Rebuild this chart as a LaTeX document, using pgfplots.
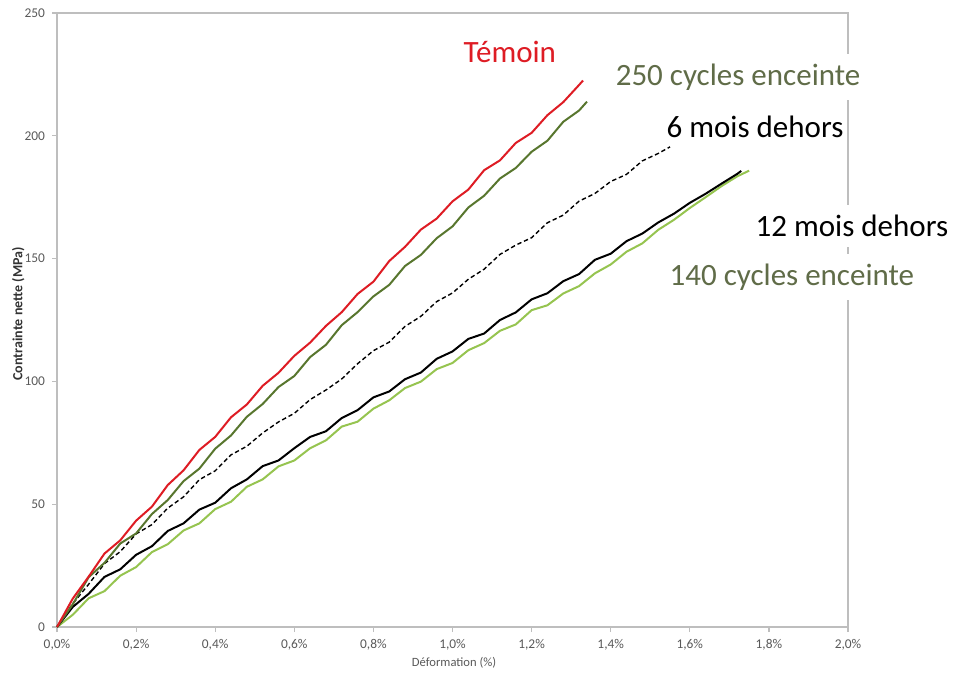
\documentclass[border=0pt]{standalone}
\usepackage{fontspec}
\setmainfont{Carlito}
\usepackage{pgfplots}
\pgfplotsset{compat=1.18}

\definecolor{temoin}{RGB}{222,28,36}
\definecolor{darkgr}{RGB}{88,118,46}
\definecolor{lightgr}{RGB}{150,196,80}
\definecolor{olivetxt}{RGB}{96,108,72}
\definecolor{axisgray}{RGB}{190,190,190}
\definecolor{ticktext}{RGB}{89,89,89}
\tikzset{bigtxt/.style={fill=white, inner xsep=1.5pt, inner ysep=5pt, font=\fontsize{15.5}{18}\selectfont}}

\begin{document}
\begin{tikzpicture}
\path[use as bounding box] (0pt,0pt) rectangle (478.5pt,338.5pt);
\begin{axis}[
  at={(28.5pt,25pt)}, anchor=south west,
  scale only axis, width=395.5pt, height=307pt,
  xmin=0, xmax=2, ymin=0, ymax=250,
  clip=false,
  axis line style={draw=axisgray, line width=0.6pt},
  xtick={0,0.2,0.4,0.6,0.8,1.0,1.2,1.4,1.6,1.8,2.0},
  xticklabels={{0,0\%},{0,2\%},{0,4\%},{0,6\%},{0,8\%},{1,0\%},{1,2\%},{1,4\%},{1,6\%},{1,8\%},{2,0\%}},
  ytick={0,50,100,150,200,250},
  xtick pos=left, ytick pos=left,
  tick align=outside, major tick length=2.5pt,
  tick style={draw=axisgray, line width=0.6pt},
  ticklabel style={font=\fontsize{6.7}{8}\selectfont, text=ticktext},
  /pgf/number format/assume math mode=true,
  xlabel={Déformation (\%)},
  xlabel style={at={(axis description cs:0.502,-0.0586)}, anchor=center,
    font=\fontsize{6.3}{7.5}\selectfont, text=ticktext},
  ylabel={Contrainte nette (MPa)},
  ylabel style={at={(axis description cs:-0.049,0.51)}, anchor=center,
    font=\bfseries\fontsize{7}{8}\selectfont, text=black!80},
]

% curve names, white boxes hide the right frame line
\node[bigtxt, text=temoin] at (axis cs:1.145,234) {Témoin};
\node[bigtxt, text=olivetxt] at (axis cs:1.722,223.9) {250 cycles enceinte};
\node[bigtxt, text=black] at (axis cs:1.765,203.6) {6 mois dehors};
\node[bigtxt, text=black] at (axis cs:2.010,163.3) {12 mois dehors};
\node[bigtxt, text=olivetxt] at (axis cs:1.858,142.5) {140 cycles enceinte};

% 140 cycles enceinte
\addplot[lightgr, line width=1pt] table {
0.00 0
0.04 5.0
0.08 11.7
0.12 14.6
0.16 20.9
0.20 24.4
0.24 30.5
0.28 33.7
0.32 39.3
0.36 42.2
0.40 48.0
0.44 51.0
0.48 57.1
0.52 60.1
0.56 65.4
0.60 67.8
0.64 72.8
0.68 76.0
0.72 81.6
0.76 83.6
0.80 88.9
0.84 92.3
0.88 97.3
0.92 99.9
0.96 105.0
1.00 107.5
1.04 112.7
1.08 115.6
1.12 120.6
1.16 123.2
1.20 129.0
1.24 131.0
1.28 135.8
1.32 138.8
1.36 144.0
1.40 147.6
1.44 152.8
1.48 156.2
1.52 161.7
1.56 165.8
1.60 170.6
1.64 175.0
1.68 179.5
1.72 183.5
1.75 185.8
};

% 12 mois dehors
\addplot[black, line width=1pt] table {
0.00 0
0.04 8.2
0.08 13.5
0.12 20.4
0.16 23.5
0.20 29.4
0.24 32.9
0.28 39.1
0.32 42.2
0.36 47.8
0.40 50.6
0.44 56.5
0.48 60.1
0.52 65.5
0.56 67.8
0.60 72.8
0.64 77.4
0.68 79.7
0.72 85.1
0.76 88.3
0.80 93.5
0.84 95.9
0.88 100.9
0.92 103.6
0.96 109.2
1.00 112.2
1.04 117.3
1.08 119.5
1.12 125.0
1.16 128.1
1.20 133.4
1.24 135.9
1.28 140.8
1.32 143.7
1.36 149.5
1.40 152.0
1.44 157.1
1.48 160.2
1.52 164.7
1.56 168.3
1.60 172.7
1.64 176.4
1.68 180.5
1.72 184.5
1.73 185.7
};

% 6 mois dehors
\addplot[black, line width=0.7pt, dash pattern=on 2.2pt off 1.4pt] table {
0.00 0
0.04 9.5
0.08 17.4
0.12 25.8
0.16 30.7
0.20 37.9
0.24 41.7
0.28 48.4
0.32 53.0
0.36 60.0
0.40 63.6
0.44 70.1
0.48 73.6
0.52 79.0
0.56 83.5
0.60 87.0
0.64 92.6
0.68 96.5
0.72 101.0
0.76 107.2
0.80 112.5
0.84 116.0
0.88 122.4
0.92 126.5
0.96 132.5
1.00 136.0
1.04 141.6
1.08 145.7
1.12 151.7
1.16 155.5
1.20 158.5
1.24 164.6
1.28 167.7
1.32 173.4
1.36 176.5
1.40 181.4
1.44 184.3
1.48 189.8
1.52 192.8
1.55 195.5
};

% 250 cycles enceinte
\addplot[darkgr, line width=1pt] table {
0.00 0
0.04 9.3
0.08 20.3
0.12 26.1
0.16 34.0
0.20 38.1
0.24 46.0
0.28 51.7
0.32 59.4
0.36 64.5
0.40 72.6
0.44 78.0
0.48 85.6
0.52 90.8
0.56 97.7
0.60 102.2
0.64 109.9
0.68 114.9
0.72 122.9
0.76 128.2
0.80 134.6
0.84 139.3
0.88 147.0
0.92 151.5
0.96 158.3
1.00 163.1
1.04 170.8
1.08 175.6
1.12 182.6
1.16 186.9
1.20 193.5
1.24 198.0
1.28 205.7
1.32 210.3
1.34 213.9
};

% Temoin
\addplot[temoin, line width=1pt] table {
0.00 0
0.04 11.6
0.08 20.5
0.12 29.9
0.16 35.3
0.20 43.3
0.24 49.0
0.28 57.8
0.32 63.8
0.36 72.1
0.40 77.4
0.44 85.4
0.48 90.6
0.52 98.2
0.56 103.5
0.60 110.4
0.64 115.8
0.68 122.6
0.72 128.2
0.76 135.6
0.80 140.6
0.84 149.0
0.88 154.8
0.92 161.8
0.96 166.3
1.00 173.3
1.04 178.1
1.08 186.0
1.12 190.0
1.16 197.1
1.20 201.2
1.24 208.4
1.28 213.7
1.32 220.7
1.33 222.5
};
\end{axis}
\end{tikzpicture}
\end{document}
